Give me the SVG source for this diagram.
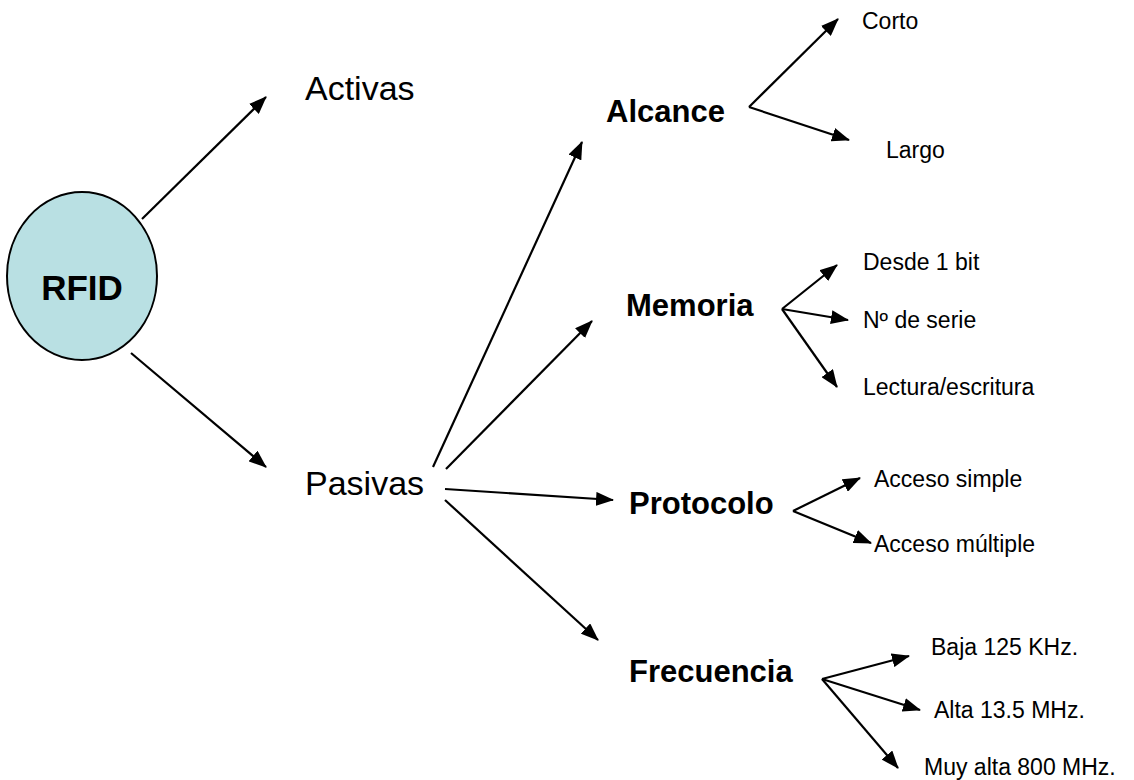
<svg xmlns="http://www.w3.org/2000/svg" width="1134" height="780" viewBox="0 0 1134 780">
<style>
.t{font-family:"Liberation Sans",Arial,sans-serif;fill:#000}
.big{font-size:34px}
.b{font-size:31px;font-weight:bold}
.s{font-size:23px}
.c line{stroke:#000;stroke-width:2.2;marker-end:url(#ah)}
</style>
<defs>
<marker id="ah" viewBox="0 0 18 14" refX="17" refY="7" markerWidth="18" markerHeight="14" markerUnits="userSpaceOnUse" orient="auto">
<path d="M0,0 L18,7 L0,14 z" fill="#000"/>
</marker>
</defs>
<rect width="1134" height="780" fill="#fff"/>
<g id="connectors" class="c">
<line x1="142" y1="219" x2="266" y2="97"/>
<line x1="131" y1="353" x2="266" y2="467"/>
<line x1="433" y1="467" x2="582" y2="142"/>
<line x1="446" y1="469" x2="592" y2="321"/>
<line x1="445" y1="489" x2="613" y2="500"/>
<line x1="445" y1="500" x2="598" y2="640"/>
<line x1="749" y1="107" x2="838" y2="19"/>
<line x1="749" y1="107" x2="849" y2="140"/>
<line x1="782" y1="309" x2="837" y2="265"/>
<line x1="782" y1="309" x2="848" y2="320"/>
<line x1="782" y1="309" x2="837" y2="387"/>
<line x1="793" y1="511" x2="860" y2="478"/>
<line x1="793" y1="511" x2="871" y2="543"/>
<line x1="822" y1="679" x2="909" y2="656"/>
<line x1="822" y1="679" x2="920" y2="710"/>
<line x1="822" y1="679" x2="898" y2="768"/>
</g>
<g id="rfid">
<ellipse cx="82" cy="276" rx="75" ry="84" fill="#b9e0e3" stroke="#000" stroke-width="2"/>
<text class="t b" x="82" y="300" text-anchor="middle" style="font-size:35px">RFID</text>
</g>
<g id="activas"><text class="t big" x="305" y="100">Activas</text></g>
<g id="pasivas"><text class="t big" x="305" y="495">Pasivas</text></g>
<g id="alcance"><text class="t b" x="606" y="122">Alcance</text></g>
<g id="memoria"><text class="t b" x="626" y="316">Memoria</text></g>
<g id="protocolo"><text class="t b" x="629" y="514">Protocolo</text></g>
<g id="frecuencia"><text class="t b" x="629" y="682">Frecuencia</text></g>
<g id="corto"><text class="t s" x="862" y="29">Corto</text></g>
<g id="largo"><text class="t s" x="886" y="158">Largo</text></g>
<g id="desde"><text class="t s" x="863" y="270">Desde 1 bit</text></g>
<g id="serie"><text class="t s" x="863" y="328">Nº de serie</text></g>
<g id="lectura"><text class="t s" x="863" y="395">Lectura/escritura</text></g>
<g id="simple"><text class="t s" x="874" y="487">Acceso simple</text></g>
<g id="multiple"><text class="t s" x="874" y="552">Acceso múltiple</text></g>
<g id="baja"><text class="t s" x="931" y="655">Baja 125 KHz.</text></g>
<g id="alta"><text class="t s" x="934" y="718">Alta 13.5 MHz.</text></g>
<g id="muyalta"><text class="t s" x="924" y="775">Muy alta 800 MHz.</text></g>
</svg>
